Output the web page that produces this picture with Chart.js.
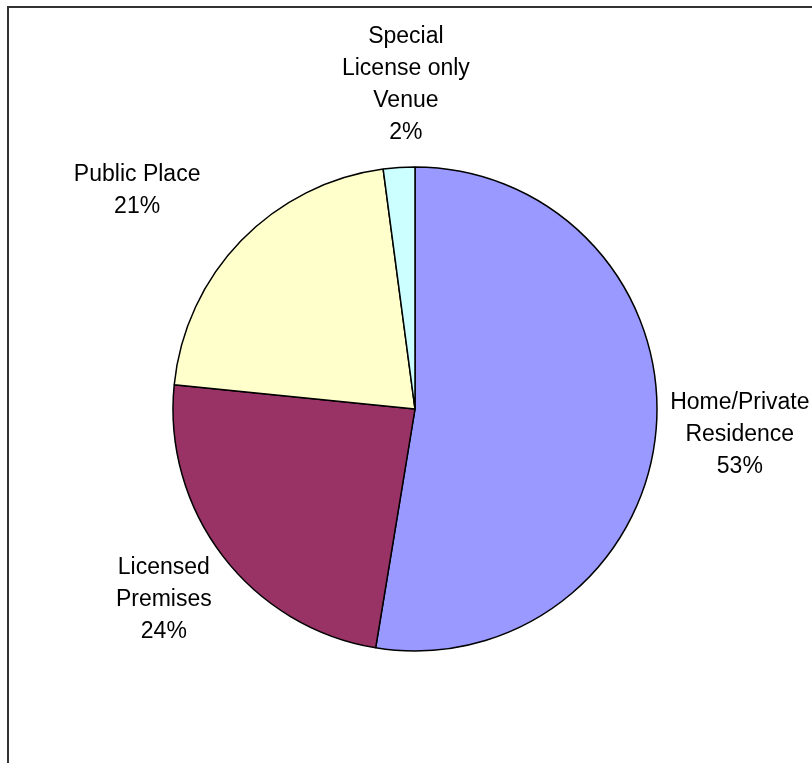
<!DOCTYPE html>
<html>
<head>
<meta charset="utf-8">
<script src="https://cdn.jsdelivr.net/npm/chart.js@4/dist/chart.umd.min.js"></script>
<style>
  html, body { margin: 0; padding: 0; background: #fff; overflow: hidden; }
  #frame {
    position: absolute; left: 7px; top: 6px; width: 900px; height: 900px;
    border-left: 2px solid #333; border-top: 2px solid #333;
  }
  #wrap { position: absolute; left: 0; top: 0; width: 812px; height: 763px; }
</style>
</head>
<body>
<div id="frame"></div>
<div id="wrap"><canvas id="pie"></canvas></div>
<script>
// categories (label lines as shown in the chart)
const categories = [
    ['Home/Private', 'Residence'],
    ['Licensed', 'Premises'],
    ['Public Place'],
    ['Special', 'License only', 'Venue']
];
// share of incidents, percent
const shares = [52.6, 24.0, 21.3, 2.1];
const sliceColors = ['#9999FF', '#993366', '#FFFFCC', '#CCFFFF'];

// outside labels, name + rounded percent
const outsideLabels = {
    id: 'outsideLabels',
    afterDatasetsDraw(chart, args, opts) {
        const ctx = chart.ctx;
        const meta = chart.getDatasetMeta(0);
        const total = shares.reduce((a, b) => a + b, 0);
        ctx.save();
        ctx.font = opts.font;
        ctx.fillStyle = '#000';
        ctx.textAlign = 'center';
        ctx.textBaseline = 'middle';
        meta.data.forEach((arc, i) => {
            const p = arc.getProps(['x', 'y', 'startAngle', 'endAngle', 'outerRadius'], true);
            const mid = (p.startAngle + p.endAngle) / 2;
            const lines = categories[i].concat([Math.round(shares[i] / total * 100) + '%']);
            let w = 0;
            lines.forEach(l => { w = Math.max(w, ctx.measureText(l).width); });
            const h = lines.length * opts.lineHeight;
            const c = Math.cos(mid), s = Math.sin(mid);
            const ext = Math.min(Math.abs(c) > 1e-6 ? w / 2 / Math.abs(c) : 1e9,
                                 Math.abs(s) > 1e-6 ? h / 2 / Math.abs(s) : 1e9);
            const d = p.outerRadius + opts.gap + ext;
            const nudge = opts.nudge[i] || [0, 0];
            const cx = p.x + d * c + nudge[0];
            const cy = p.y + d * s + nudge[1];
            lines.forEach((l, k) => {
                ctx.fillText(l, cx, cy + (k - (lines.length - 1) / 2) * opts.lineHeight);
            });
        });
        ctx.restore();
    }
};

new Chart(document.getElementById('pie'), {
    type: 'pie',
    data: {
        labels: categories.map(c => c.join(' ')),
        datasets: [{
            data: shares,
            backgroundColor: sliceColors,
            borderColor: '#000',
            borderWidth: 1.5
        }]
    },
    options: {
        responsive: true,
        maintainAspectRatio: false,
        animation: false,
        radius: 242,
        layout: { padding: { left: 18, right: 0, top: 55, bottom: 0 } },
        plugins: {
            legend: { display: false },
            tooltip: { enabled: false },
            outsideLabels: {
                font: '23px "Liberation Sans", Arial, sans-serif',
                lineHeight: 32,
                gap: 14,
                nudge: [[0, -1], [0, -2], [-61, -8], [12, -5]]
            }
        }
    },
    plugins: [outsideLabels]
});
</script>
</body>
</html>
